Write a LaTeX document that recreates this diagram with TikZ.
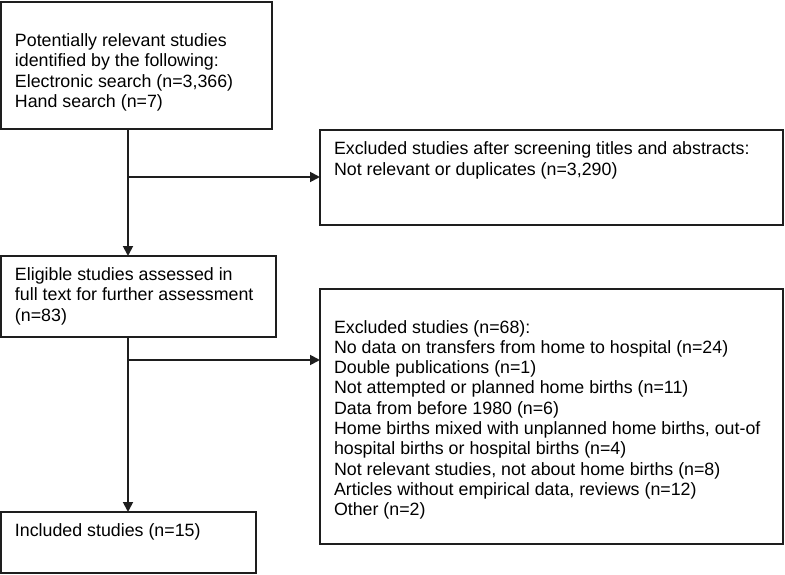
\documentclass[tikz,border=0pt]{standalone}
\usepackage{fontspec}
\setmainfont{Liberation Sans}
\usetikzlibrary{arrows.meta}
\definecolor{ink}{HTML}{1E1E1E}
\tikzset{
  box/.style={draw=ink, line width=1.6pt, rectangle, inner sep=0pt, outer sep=0pt, anchor=north west},
  txt/.style={anchor=base west, inner sep=0pt, outer sep=0pt, text=black, font=\fontsize{17.8}{20.3}\selectfont},
  arr/.style={draw=ink, line width=1.8pt, -{Triangle[length=10pt,width=10pt]}},
}
\newcommand{\ml}[1]{\begin{tabular}[t]{@{}l@{}}#1\end{tabular}}
\begin{document}
\begin{tikzpicture}[x=1pt,y=-1pt]
\useasboundingbox (0,0) rectangle (785,575);
% boxes
\node[box, minimum width=271pt, minimum height=127pt] (b1) at (1,2) {};
\node[box, minimum width=463pt, minimum height=95pt] (b2) at (320,130) {};
\node[box, minimum width=275pt, minimum height=81pt] (b3) at (1,256) {};
\node[box, minimum width=463pt, minimum height=255pt] (b4) at (320,289) {};
\node[box, minimum width=255pt, minimum height=61pt] (b5) at (1,512) {};
% texts
\node[txt] (t1) at (15,46.7) {\ml{Potentially relevant studies\\identified by the following:\\Electronic search (n=3,366)\\Hand search (n=7)}};
\node[txt] (t2) at (334,155) {\ml{Excluded studies after screening titles and abstracts:\\Not relevant or duplicates (n=3,290)}};
\node[txt] (t3) at (15,280.5) {\ml{Eligible studies assessed in\\full text for further assessment\\(n=83)}};
\node[txt] (t4) at (334,333) {\ml{Excluded studies (n=68):\\No data on transfers from home to hospital (n=24)\\Double publications (n=1)\\Not attempted or planned home births (n=11)\\Data from before 1980 (n=6)\\Home births mixed with unplanned home births, out-of\\hospital births or hospital births (n=4)\\Not relevant studies, not about home births (n=8)\\Articles without empirical data, reviews (n=12)\\Other (n=2)}};
\node[txt] (t5) at (15,536) {\ml{Included studies (n=15)}};
% connectors
\coordinate (j1) at (128,177);
\coordinate (j2) at (128,360);
\draw[arr] (b1.south -| j1) -- (b3.north -| j1);
\draw[arr] (j1) -- (b2.west |- j1);
\draw[arr] (b3.south -| j2) -- (b5.north -| j2);
\draw[arr] (j2) -- (b4.west |- j2);
\end{tikzpicture}
\end{document}
